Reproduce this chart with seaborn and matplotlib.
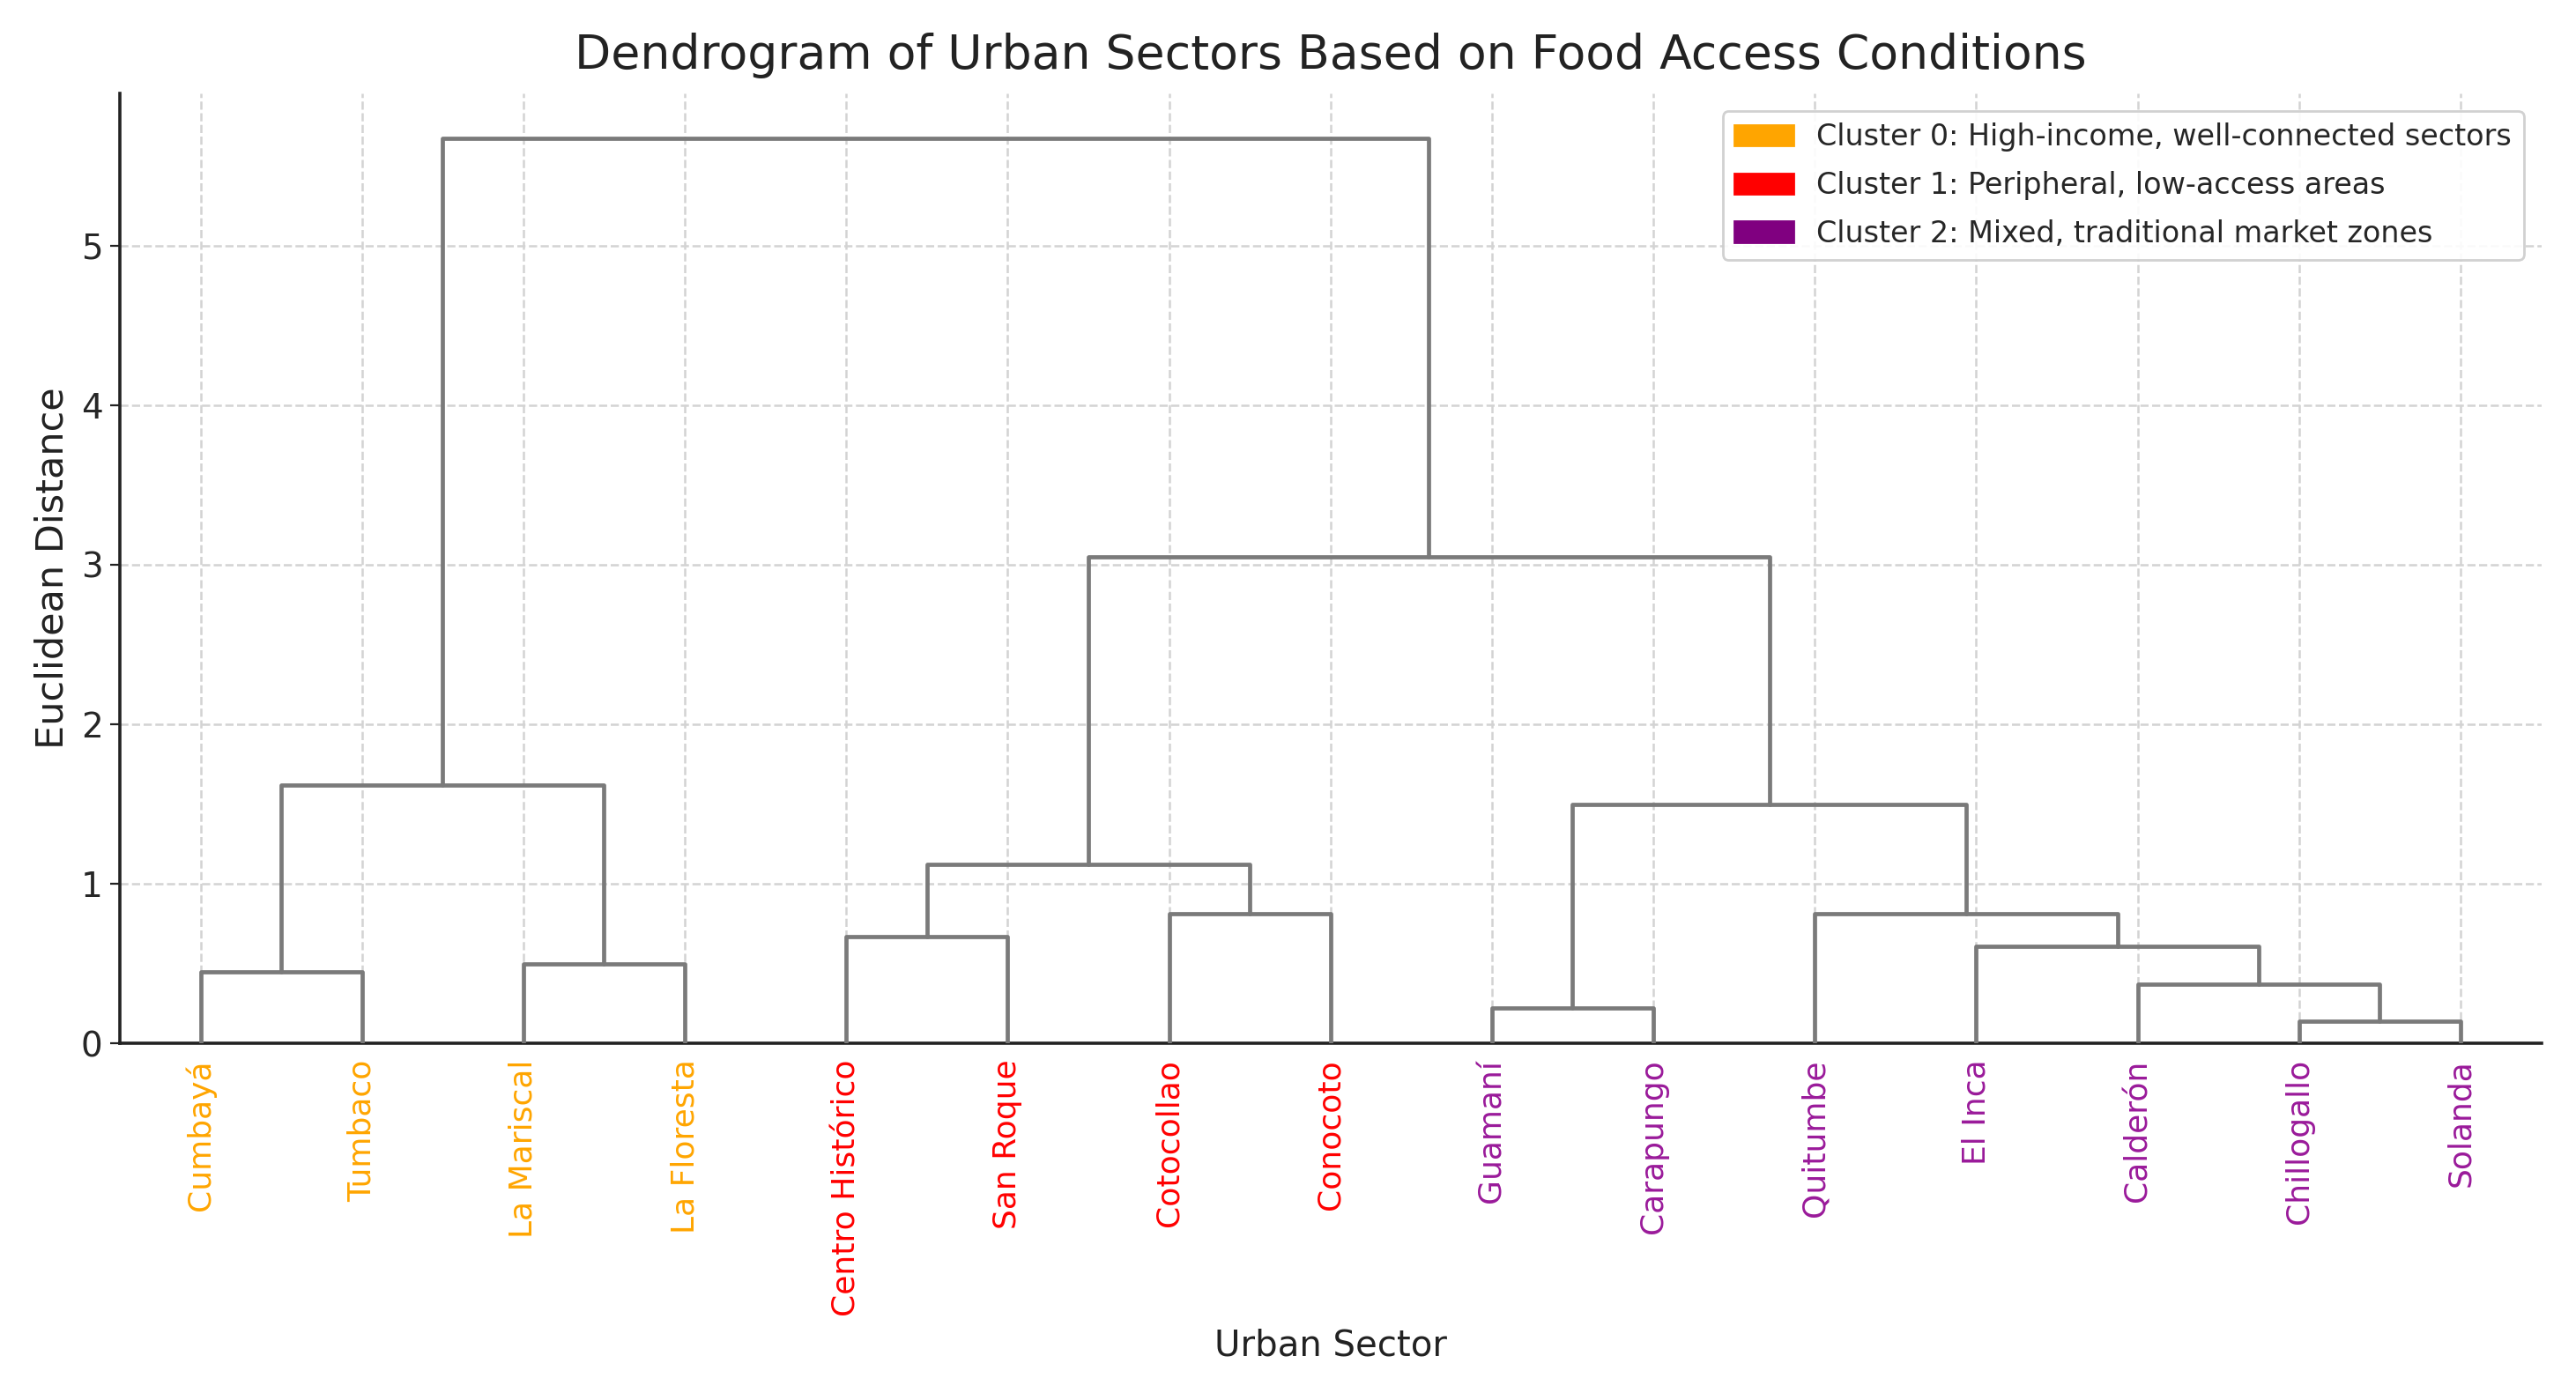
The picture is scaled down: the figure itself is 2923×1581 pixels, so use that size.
import numpy as np
import pandas as pd
import seaborn as sns
import matplotlib.pyplot as plt
from matplotlib.patches import Patch

# leaves in dendrogram order
sectors = ['Cumbayá', 'Tumbaco', 'La Mariscal', 'La Floresta', 'Centro Histórico',
           'San Roque', 'Cotocollao', 'Conocoto', 'Guamaní', 'Carapungo',
           'Quitumbe', 'El Inca', 'Calderón', 'Chillogallo', 'Solanda']
clusters = [0, 0, 0, 0, 1, 1, 1, 1, 2, 2, 2, 2, 2, 2, 2]

# linkage: (child a, child b, distance); ids >= 15 refer to earlier merges
link_a = [13, 8, 12, 0, 2, 11, 4, 6, 10, 21, 16, 18, 24, 26]
link_b = [14, 9, 15, 1, 3, 17, 5, 7, 20, 22, 23, 19, 25, 27]
link_dist = [0.14, 0.22, 0.37, 0.45, 0.50, 0.61, 0.67, 0.81, 0.81, 1.12, 1.50, 1.62, 3.05, 5.67]

cluster_names = ['Cluster 0: High-income, well-connected sectors',
                 'Cluster 1: Peripheral, low-access areas',
                 'Cluster 2: Mixed, traditional market zones']
cluster_colors = ['orange', 'red', 'purple']
label_colors = ['orange', 'red', '#9a1a9a']

sns.set_style("whitegrid", {"grid.linestyle": "--", "grid.color": "#d0d0d0",
                            "axes.edgecolor": "#222222"})
plt.rcParams['font.family'] = ['DejaVu Sans']

fig = plt.figure(figsize=(14.615, 7.905), dpi=200)
ax = fig.add_axes([0.0465, 0.251, 0.94, 0.682])

n = len(sectors)
pos = {i: 5 + 10 * i for i in range(n)}
height = {i: 0.0 for i in range(n)}
for k, (a, b, d) in enumerate(zip(link_a, link_b, link_dist)):
    xa, xb = pos[a], pos[b]
    seg = pd.DataFrame({'x': [xa, xa, xb, xb], 'y': [height[a], d, d, height[b]]})
    ax.plot(seg['x'], seg['y'], color='#7a7a7a', lw=1.7, zorder=3)
    pos[n + k] = (xa + xb) / 2
    height[n + k] = d

ax.set_xlim(0, 10 * n)
ax.set_ylim(0, max(link_dist) * 1.05)
ax.set_xticks([pos[i] for i in range(n)])
ax.set_xticklabels(sectors, rotation=90, fontsize=13)
for lbl, c in zip(ax.get_xticklabels(), clusters):
    lbl.set_color(label_colors[c])
ax.set_yticks(range(0, 6))
ax.tick_params(axis='y', labelsize=14, left=True, length=4, color='#222222', pad=3)
ax.tick_params(axis='x', bottom=False, pad=3)
ax.grid(True, linestyle='--', color='#d3d3d3', lw=0.9)
sns.despine(ax=ax)
for s in ['left', 'bottom']:
    ax.spines[s].set_color('#222222')
    ax.spines[s].set_linewidth(1.3)

ax.set_title('Dendrogram of Urban Sectors Based on Food Access Conditions',
             fontsize=19.3, color='#222222', pad=10)
ax.set_xlabel('Urban Sector', fontsize=14.5, color='#222222', labelpad=5)
ax.set_ylabel('Euclidean Distance', fontsize=15.5, color='#222222')

handles = [Patch(color=c, label=l) for c, l in zip(cluster_colors, cluster_names)]
ax.legend(handles=handles, loc='upper right', fontsize=12, frameon=True,
          framealpha=0.9, edgecolor='#cccccc', borderaxespad=0.6, labelspacing=0.65)

plt.savefig('out.png', dpi=200)
